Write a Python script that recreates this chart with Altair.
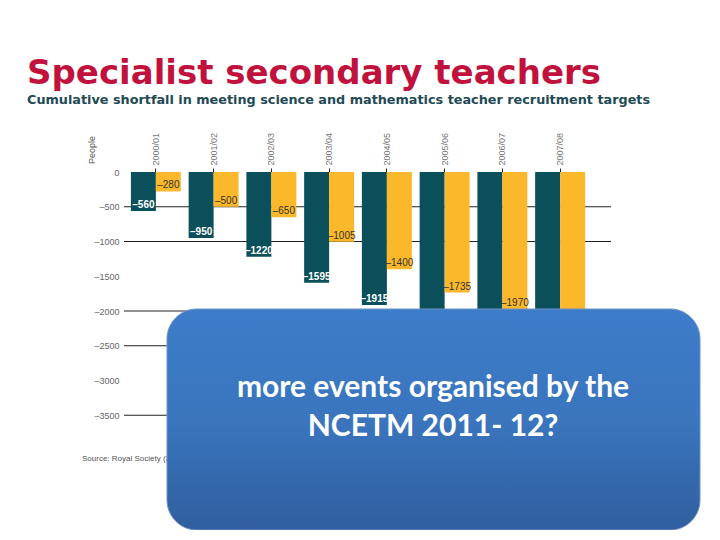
import altair as alt
import pandas as pd

years = ["2000/01", "2001/02", "2002/03", "2003/04", "2004/05", "2005/06", "2006/07", "2007/08"]
series_a = [-560, -950, -1220, -1595, -1915, -2265, -2595, -2905]   # teal (last three hidden, estimated)
series_b = [-280, -500, -650, -1005, -1400, -1735, -1970, -2200]    # orange (last hidden, estimated)
series_names = ["Series A", "Series B"]
y_ticks = [0, -500, -1000, -1500, -2000, -2500, -3000, -3500]
grid_values = [-500, -1000, -2000, -2500, -3500]

TEAL = "#0B4F5A"
ORANGE = "#FBB82A"

rows = []
for y, a, b in zip(years, series_a, series_b):
    rows.append({"year": y, "series": series_names[0], "value": a, "label": "\u2013" + str(abs(a))})
    rows.append({"year": y, "series": series_names[1], "value": b, "label": "\u2013" + str(abs(b))})
df = pd.DataFrame(rows)
grid_df = pd.DataFrame({"v": grid_values})
one = pd.DataFrame({"k": [0]})

W, H = 462, 278
PAD_L, PAD_T = 119, 164

xscale = alt.Scale(domain=years, paddingInner=0.135, paddingOuter=0.0675)
yscale = alt.Scale(domain=[-4000, 0], nice=False)
offscale = alt.Scale(domain=series_names)

xaxis = alt.Axis(orient="top", labelAngle=-90, labelFont="Liberation Sans",
                 labelFontSize=9, labelColor="#777777", domain=False,
                 tickSize=4, tickColor="#222222", labelPadding=3)
yaxis = alt.Axis(values=y_ticks, grid=False, domain=False, ticks=False,
                 labelFont="Liberation Sans", labelFontSize=9,
                 labelColor="#666666", labelPadding=8,
                 labelExpr="datum.value == 0 ? '0' : '\u2013' + abs(datum.value)")

grid = alt.Chart(grid_df).mark_rule(color="#222222", strokeWidth=1).encode(
    y=alt.Y("v:Q", scale=yscale, title=None, axis=yaxis),
    x=alt.value(-3), x2=alt.value(484),
)

bars = alt.Chart(df).mark_bar().encode(
    x=alt.X("year:N", scale=xscale, sort=years, title=None, axis=xaxis),
    xOffset=alt.XOffset("series:N", sort=series_names, scale=offscale),
    y=alt.Y("value:Q", scale=yscale, title=None, axis=yaxis),
    color=alt.Color("series:N", scale=alt.Scale(domain=series_names, range=[TEAL, ORANGE]),
                    legend=None),
)

visible = df[df.value > -2100]

lab_a = alt.Chart(visible[visible.series == series_names[0]]).mark_text(
    baseline="bottom", dy=-1, font="Liberation Sans", fontSize=10, fontWeight="bold", color="white"
).encode(
    x=alt.X("year:N", scale=xscale, sort=years, title=None, axis=xaxis),
    xOffset=alt.XOffset("series:N", sort=series_names, scale=offscale),
    y=alt.Y("value:Q", scale=yscale, title=None, axis=yaxis),
    text="label:N",
)
lab_b = alt.Chart(visible[visible.series == series_names[1]]).mark_text(
    baseline="bottom", dy=-1, font="Liberation Sans", fontSize=10, color="#333333"
).encode(
    x=alt.X("year:N", scale=xscale, sort=years, title=None, axis=xaxis),
    xOffset=alt.XOffset("series:N", sort=series_names, scale=offscale),
    y=alt.Y("value:Q", scale=yscale, title=None, axis=yaxis),
    text="label:N",
)

def txt(s, x, y, **kw):
    return alt.Chart(one).mark_text(**kw).encode(x=alt.value(x), y=alt.value(y), text=alt.value(s))

title = txt("Specialist secondary teachers", 27 - 127, 84 - 172, align="left", baseline="alphabetic",
            font="DejaVu Sans", fontSize=34, fontWeight="bold", color="#C0123C")
subtitle = txt("Cumulative shortfall in meeting science and mathematics teacher recruitment targets",
               27 - 127, 104 - 172, align="left", baseline="alphabetic",
               font="DejaVu Sans", fontSize=12.8, fontWeight="bold", color="#1F4A55")
people = txt("People", 92 - 127, 150 - 172, angle=270, align="center", baseline="middle",
             font="Liberation Sans", fontSize=9, color="#555555")
source = txt("Source: Royal Society (2008)", 82 - 127, 461 - 172, align="left", baseline="alphabetic",
             font="Liberation Sans", fontSize=8, color="#555555")

box = alt.Chart(one).mark_rect(
    cornerRadius=30,
    stroke="#6F93C8", strokeWidth=1,
    color=alt.Gradient(gradient="linear",
                       stops=[alt.GradientStop(color="#3D7CC9", offset=0),
                              alt.GradientStop(color="#3A75BE", offset=0.5),
                              alt.GradientStop(color="#305E9E", offset=1)],
                       x1=0, x2=0, y1=0, y2=1),
).encode(x=alt.value(167 - 127), x2=alt.value(700 - 127),
         y=alt.value(309 - 172), y2=alt.value(530 - 172))

line1 = txt("more events organised by the", 433 - 127, 397 - 172, align="center", baseline="alphabetic",
            font="Lato", fontSize=30, fontWeight="bold", color="white")
line2 = txt("NCETM 2011- 12?", 433 - 127, 436 - 172, align="center", baseline="alphabetic",
            font="Lato", fontSize=30, fontWeight="bold", color="white")

chart = alt.layer(grid, bars, lab_a, lab_b, title, subtitle, people, source, box, line1, line2).properties(
    width=W, height=H,
    autosize=alt.AutoSizeParams(type="none"),
    padding={"left": PAD_L, "top": PAD_T, "right": 720 - 16 - PAD_L - W, "bottom": 540 - 18 - PAD_T - H},
    background="white",
).configure_view(stroke=None)

chart.save("out.html", embed_options={"renderer": "svg", "actions": False})
